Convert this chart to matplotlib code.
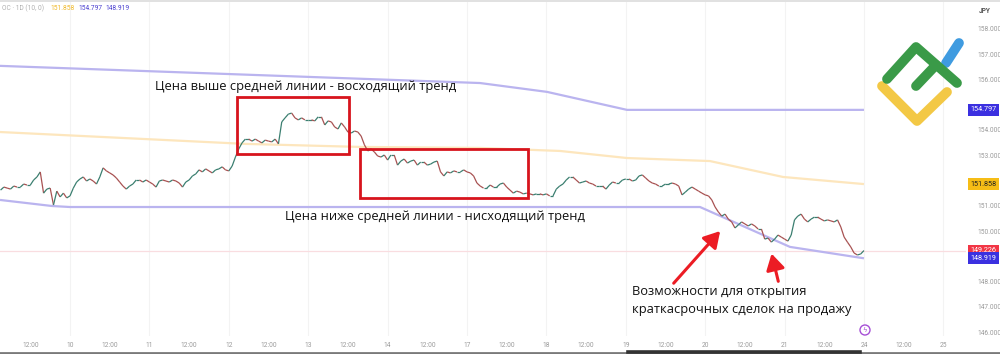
import numpy as np
import matplotlib
matplotlib.use("Agg")
import matplotlib.pyplot as plt
from matplotlib.collections import LineCollection
from matplotlib.patches import Rectangle, FancyArrowPatch, Circle
from matplotlib.lines import Line2D
import matplotlib.transforms as mtransforms

# ---------------- data ----------------
# time axis: trading-day index (Jan 9 00:00 = 0, weekends removed), 1-hour closes
start_day = 0.125
step_day = 1 / 24
close = [
    151.62, 151.74, 151.70, 151.66, 151.78, 151.74, 151.74, 151.86, 151.82, 151.82,
    152.02, 152.14, 152.34, 151.50, 151.66, 151.70, 151.03, 151.58, 151.35, 151.50,
    151.31, 151.39, 151.70, 151.94, 152.06, 152.14, 151.98, 152.06, 151.98, 151.86,
    152.14, 152.50, 152.38, 152.30, 152.22, 152.10, 151.94, 151.78, 151.66, 151.78,
    151.86, 152.02, 152.02, 151.94, 152.02, 151.94, 151.86, 151.74, 151.98, 152.02,
    151.98, 151.94, 152.02, 151.98, 151.90, 151.74, 151.94, 152.02, 152.18, 152.26,
    152.42, 152.34, 152.46, 152.38, 152.30, 152.42, 152.46, 152.54, 152.42, 152.38,
    152.57, 152.93, 153.25, 153.49, 153.64, 153.64, 153.56, 153.64, 153.56, 153.49,
    153.60, 153.56, 153.53, 153.64, 153.45, 154.32, 154.48, 154.63, 154.67, 154.48,
    154.40, 154.48, 154.40, 154.40, 154.40, 154.36, 154.52, 154.52, 154.20, 154.36,
    154.32, 154.12, 154.04, 154.28, 154.12, 153.92, 153.88, 153.96, 153.92, 153.76,
    153.41, 153.17, 153.25, 153.13, 152.97, 152.93, 153.01, 152.81, 153.01, 153.01,
    152.61, 152.77, 152.85, 152.69, 152.77, 152.81, 152.61, 152.73, 152.73, 152.61,
    152.65, 152.73, 152.77, 152.34, 152.18, 152.34, 152.30, 152.38, 152.34, 152.34,
    152.42, 152.34, 152.30, 152.18, 151.90, 151.78, 151.70, 151.70, 151.82, 151.74,
    151.74, 151.86, 151.90, 151.74, 151.62, 151.50, 151.58, 151.54, 151.47, 151.50,
    151.47, 151.43, 151.47, 151.47, 151.43, 151.47, 151.39, 151.39, 151.66, 151.78,
    151.86, 152.02, 152.14, 152.14, 152.02, 151.90, 151.94, 151.98, 151.90, 151.86,
    151.78, 151.78, 151.78, 151.66, 151.82, 151.94, 151.90, 151.90, 152.02, 152.06,
    152.06, 151.98, 152.02, 152.18, 152.22, 152.10, 151.98, 151.90, 151.86, 151.78,
    151.78, 151.86, 151.86, 151.90, 151.86, 151.78, 151.43, 151.54, 151.66, 151.74,
    151.66, 151.58, 151.50, 151.43, 151.39, 151.23, 150.95, 150.75, 150.59, 150.67,
    150.47, 150.36, 150.12, 150.24, 150.36, 150.28, 150.20, 150.28, 150.20, 150.08,
    150.08, 149.68, 149.72, 149.56, 149.68, 149.84, 149.76, 149.68, 149.60, 149.84,
    150.44, 150.59, 150.67, 150.47, 150.36, 150.47, 150.55, 150.55, 150.47, 150.40,
    150.44, 150.40, 150.36, 150.44, 150.16, 149.76, 149.56, 149.37, 149.13, 149.05,
    149.09, 149.226,
]
upper_t = [0.118, 6.164, 7.007, 8.015, 11.0]
upper_v = [156.54, 155.86, 155.51, 154.797, 154.797]
mid_t = [0.118, 3.204, 4.652, 6.164, 7.171, 8.015, 9.06, 9.98, 11.0]
mid_v = [153.92, 153.45, 153.33, 153.29, 153.17, 152.89, 152.77, 152.14, 151.858]
lower_t = [0.118, 0.773, 1.0, 8.935, 10.068, 11.0]
lower_v = [151.23, 150.99, 150.95, 150.95, 149.37, 148.919]
last_price = 149.226

tick_pos = [0.5, 1, 1.5, 2, 2.5, 3, 3.5, 4, 4.5, 5, 5.5, 6, 6.5, 7, 7.5, 8, 8.5,
            9, 9.5, 10, 10.5, 11, 11.5, 12]
tick_lab = ["12:00", "10", "12:00", "11", "12:00", "12", "12:00", "13", "12:00", "14",
            "12:00", "17", "12:00", "18", "12:00", "19", "12:00", "20", "12:00", "21",
            "12:00", "24", "12:00", "25"]
price_ticks = [146, 147, 148, 150, 151, 153, 154, 156, 157, 158]

# ---------------- figure ----------------
W, H = 1000, 354
fig = plt.figure(figsize=(W / 100, H / 100), dpi=100)
fig.patch.set_facecolor("white")
ax = fig.add_axes([0, 18 / H, 966 / W, (H - 20) / H])
ax.set_xlim(0.118, 12.285)
ax.set_ylim(145.842, 159.069)
for s in ax.spines.values():
    s.set_visible(False)

FONT = "Open Sans"

# vertical faint grid at day boundaries
for p, l in zip(tick_pos, tick_lab):
    if l != "12:00":
        ax.axvline(p, color="#f3f3f3", lw=0.8, zorder=0)

# last price line
ax.axhline(last_price, color="#f9dde0", lw=0.9, zorder=1)

# bands
ax.plot(upper_t, upper_v, color="#bab4ef", lw=1.6, zorder=2, solid_capstyle="butt")
ax.plot(mid_t, mid_v, color="#fde6bd", lw=1.6, zorder=2, solid_capstyle="butt")
ax.plot(lower_t, lower_v, color="#bab4ef", lw=1.6, zorder=2, solid_capstyle="butt")

# price path
t = start_day + step_day * np.arange(len(close))
c = np.array(close)
segs = np.stack([np.column_stack([t[:-1], c[:-1]]), np.column_stack([t[1:], c[1:]])], axis=1)
cols = ["#3b7f70" if c[i + 1] >= c[i] else "#a85252" for i in range(len(c) - 1)]
ax.add_collection(LineCollection(segs, colors=cols, linewidths=0.9, zorder=3))

# red boxes
red = "#d7141d"
ax.add_patch(Rectangle((3.103, 153.05), 4.514 - 3.103, 155.307 - 153.05, fill=False,
                       ec=red, lw=2.0, zorder=4))
ax.add_patch(Rectangle((4.652, 151.31), 6.768 - 4.652, 153.25 - 151.31, fill=False,
                       ec=red, lw=2.0, zorder=4))

# annotations
ax.text(2.07, 155.74, "Цена выше средней линии - восходящий тренд", family=FONT,
        fontsize=9.3, color="#111111", ha="left", va="center", zorder=5)
ax.text(3.707, 150.59, "Цена ниже средней линии - нисходящий тренд", family=FONT,
        fontsize=9.3, color="#111111", ha="left", va="center", zorder=5)
ax.text(8.078, 147.59, "Возможности для открытия", family=FONT,
        fontsize=9.3, color="#111111", ha="left", va="center", zorder=5)
ax.text(8.078, 146.91, "краткасрочных сделок на продажу", family=FONT,
        fontsize=9.3, color="#111111", ha="left", va="center", zorder=5)

arrow_red = "#ec1c24"
for (x0, y0), (x1, y1) in [((8.58, 147.85), (9.212, 150.08)), ((9.929, 147.90), (9.828, 149.21))]:
    ax.add_patch(FancyArrowPatch((x0, y0), (x1, y1), arrowstyle="-|>,head_length=6,head_width=3.5",
                                 mutation_scale=1.6, color=arrow_red, lw=2.2, zorder=6))

# x ticks
ax.set_xticks(tick_pos)
ax.set_xticklabels(tick_lab, family="Roboto", fontsize=4.8, color="#9a9a9a")
ax.tick_params(axis="x", length=0, pad=4)
# y ticks on right
ax.yaxis.tick_right()
ax.set_yticks(price_ticks)
ax.set_yticklabels([f"{v:.3f}" for v in price_ticks], family="Roboto", fontsize=4.8,
                   color="#9a9a9a")
ax.tick_params(axis="y", length=0, pad=8)

# highlighted price labels on right axis
trans = mtransforms.blended_transform_factory(ax.transAxes, ax.transData)
for v, bg, fg in [(154.797, "#3b30e0", "white"), (151.858, "#f6bd16", "#222222"),
                  (149.226, "#f23645", "white"), (148.919, "#3b30e0", "white")]:
    ax.text(1.0048, v, f"{v:.3f}", transform=trans, family="Roboto", fontsize=5.2,
            color=fg, ha="left", va="center", clip_on=False, zorder=10,
            bbox=dict(boxstyle="square,pad=0.33", fc=bg, ec="none"))

# header text (top-left)
fig.text(0.002, 1 - 8 / H, "OC · 1D (10, 0)", family="Roboto", fontsize=4.8, color="#b0b0b0",
         ha="left", va="center")
fig.text(50 / W, 1 - 8 / H, "151.858", family="Roboto", fontsize=4.8, color="#f0b92a",
         ha="left", va="center")
fig.text(78 / W, 1 - 8 / H, "154.797", family="Roboto", fontsize=4.8, color="#4a3fd0",
         ha="left", va="center")
fig.text(105 / W, 1 - 8 / H, "148.919", family="Roboto", fontsize=4.8, color="#4a3fd0",
         ha="left", va="center")
fig.text(985 / W, 1 - 11 / H, "JPY", family="Roboto", fontsize=4.8, color="#555555",
         ha="center", va="center", weight="bold")


def px(pts):
    xs = [p[0] for p in pts]
    ys = [H - p[1] for p in pts]
    return xs, ys


# logo (decorative)
lw_logo = 7.0
for pts, col in [([(946, 63), (959, 43)], "#3f9be0"),
                 ([(882, 86), (917, 121), (947, 92)], "#f3c845"),
                 ([(887, 79), (916, 47), (957, 83)], "#3a9a48"),
                 ([(916, 86), (936, 65)], "#3a9a48")]:
    xs, ys = px(pts)
    fig.add_artist(Line2D(xs, ys, transform=None, color=col, lw=lw_logo,
                          solid_capstyle="round", solid_joinstyle="round"))

# event marker near bottom
xs, ys = px([(865, 330)])
fig.add_artist(Circle((xs[0], ys[0]), 5, transform=None, fc="white", ec="#a64fd6", lw=1.0))
fig.text(865 / W, 1 - 330 / H, "ϟ", fontsize=5, color="#a64fd6", ha="center", va="center")

# frame lines of screenshot
xs, ys = px([(0, 1), (1000, 1)])
fig.add_artist(Line2D(xs, ys, transform=None, color="#dcdcdc", lw=1.2))
xs, ys = px([(0, 352.5), (1000, 352.5)])
fig.add_artist(Line2D(xs, ys, transform=None, color="#7a7a7a", lw=2.0))
xs, ys = px([(628, 352), (860, 352)])
fig.add_artist(Line2D(xs, ys, transform=None, color="#333333", lw=2.6))

fig.savefig("out.png", dpi=100, facecolor="white")
